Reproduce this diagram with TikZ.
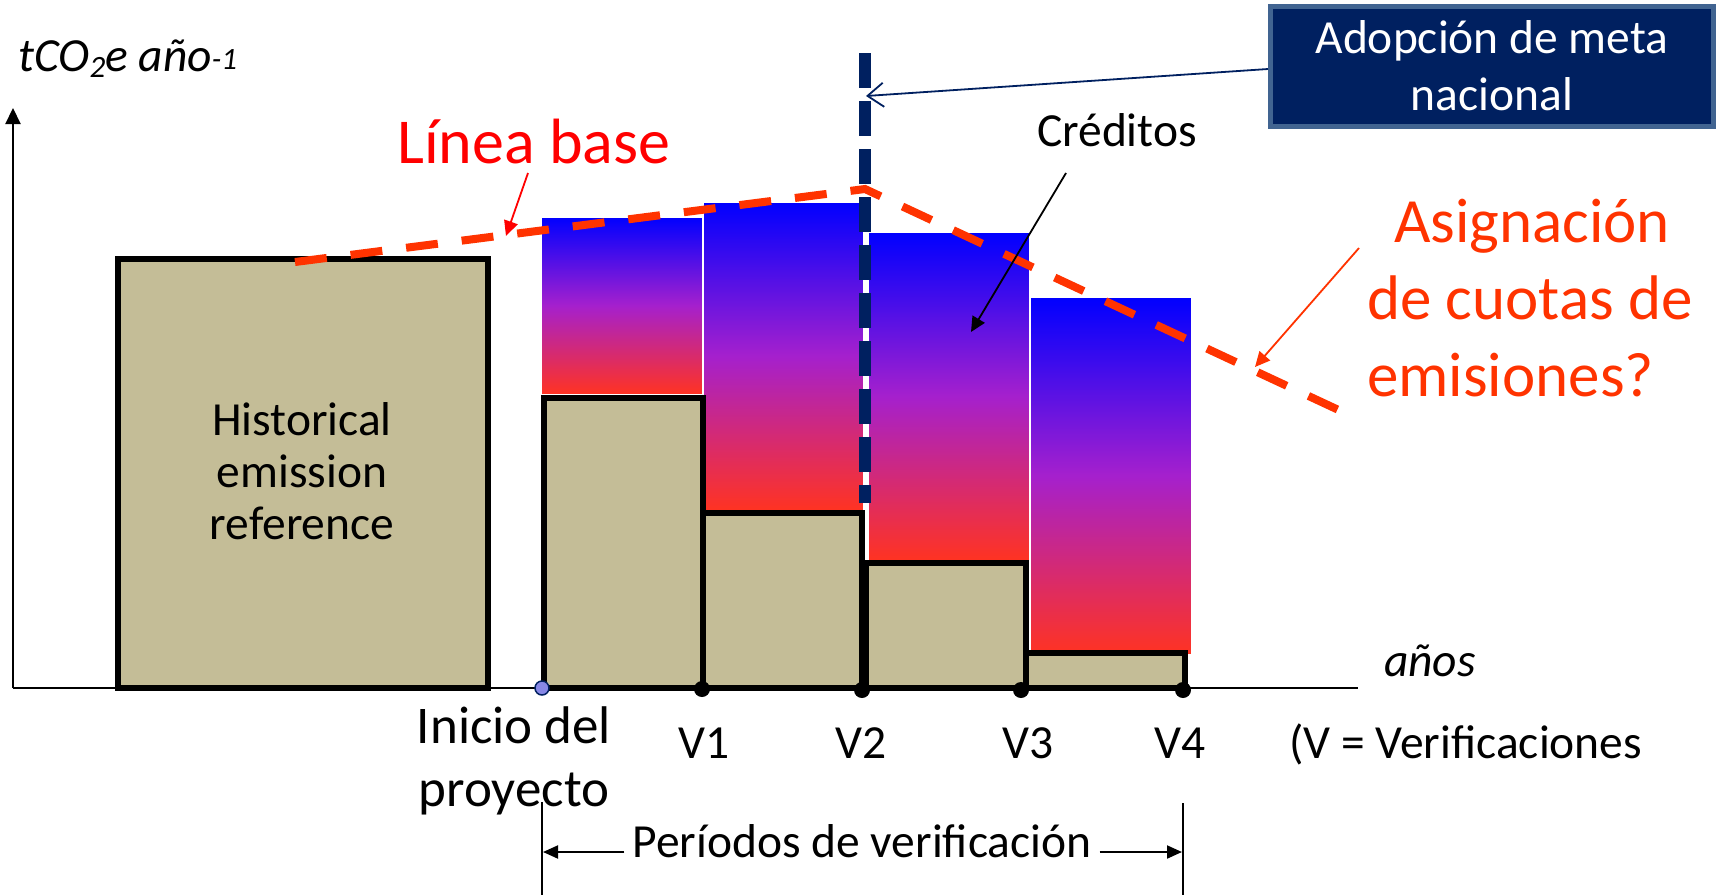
\documentclass[tikz,border=0pt]{standalone}
\usepackage{fontspec}
\setmainfont{Carlito}
\usetikzlibrary{arrows.meta}
\definecolor{tanc}{RGB}{196,189,151}
\definecolor{orc}{RGB}{255,51,0}
\definecolor{navyc}{RGB}{0,32,96}
\definecolor{steelc}{RGB}{65,100,145}
\definecolor{lavc}{RGB}{135,135,230}
\definecolor{gtop}{RGB}{0,0,255}
\definecolor{gmid}{RGB}{165,32,205}
\definecolor{gbot}{RGB}{255,51,34}
\newcommand\myfs[2]{\fontsize{#1pt}{#2pt}\selectfont}
\begin{document}
\begin{tikzpicture}[x=1pt,y=-1pt,
  tanbar/.style={fill=tanc,draw=black,line width=5.5pt},
  gradbar/.style={top color=gtop,bottom color=gbot,middle color=gmid,draw=white,line width=1pt},
  axisline/.style={draw=black,line width=2.2pt},
  lbl/.style={inner sep=0pt,font=\myfs{47.5}{52}},
  vdot/.style={circle,fill=black,inner sep=0pt,minimum size=16pt},
  basel/.style={draw=orc,line width=8pt,dash pattern=on 32pt off 24pt},
  navyd/.style={draw=navyc,line width=12pt,dash pattern=on 35pt off 13pt},
  thinarrow/.style={line width=1.8pt,-{Triangle[length=15pt,width=14pt]}},
  dimarrow/.style={line width=2pt,-{Triangle[length=15pt,width=13pt]}}
]
\useasboundingbox (0,0) rectangle (1717,895);

% axes
\coordinate (o) at (13,688);
\coordinate (xe) at (1358,688);
\coordinate (ye) at (13,108);
\draw[axisline] (o) -- (xe);
\draw[axisline,-{Triangle[length=16pt,width=15pt]}] (o) -- (ye);

% gradient (credit) bars
\path[gradbar] (541,217) rectangle (702,394);
\path[gradbar] (703,202) rectangle (863,510);
\path[gradbar] (868,232) rectangle (1029,560);
\path[gradbar] (1030,297) rectangle (1191,654);

% tan bars
\draw[tanbar] (118,259) rectangle (488,688);
\draw[tanbar] (544,398) rectangle (703,688);
\draw[tanbar] (703,513) rectangle (862,688);
\draw[tanbar] (866,563) rectangle (1026,688);
\draw[tanbar] (1026,653) rectangle (1185,688);

\node[lbl,align=center] (hist) at (302,471) {Historical\\emission\\reference};

% baseline / allocation dashed line
\coordinate (bl0) at (295,262);
\coordinate (bl1) at (865,189);
\coordinate (bl2) at (1345,413);
\draw[basel] (bl0) -- (bl1) -- (bl2);

% national target dashed line
\coordinate (nv0) at (865,53);
\coordinate (nv1) at (865,503);
\draw[navyd] (nv0) -- (nv1);

% dots on the x axis
\node[circle,fill=lavc,draw=navyc,line width=1.5pt,inner sep=0pt,minimum size=14pt] (st) at (542,688) {};
\node[vdot] (d1) at (702,689) {};
\node[vdot] (d2) at (862,690) {};
\node[vdot] (d3) at (1021,690) {};
\node[vdot] (d4) at (1183,690) {};

% axis labels
\node[lbl,anchor=base west] (ylab) at (18,71) {\itshape tCO\raisebox{-6pt}{\myfs{31}{31}2}e año\raisebox{2pt}{\myfs{31}{31}-1}};
\node[lbl,anchor=base] (anos) at (1430,676) {\itshape años};

\node[lbl,anchor=base] (v1) at (704,758) {V1};
\node[lbl,anchor=base] (v2) at (861,758) {V2};
\node[lbl,anchor=base] (v3) at (1028,758) {V3};
\node[lbl,anchor=base] (v4) at (1180,758) {V4};
\node[lbl,anchor=base west] (vdef) at (1289,758) {(V = Verificaciones};
\node[inner sep=0pt,font=\myfs{53}{63},align=center] (inicio) at (514,761) {Inicio del\\proyecto};

% verification period dimension
\coordinate (dl0) at (542,802);
\coordinate (dl1) at (542,895);
\coordinate (dr0) at (1183,803);
\coordinate (dr1) at (1183,895);
\draw[line width=1.8pt] (dl0) -- (dl1);
\draw[line width=1.8pt] (dr0) -- (dr1);
\node[inner sep=0pt,font=\myfs{47.5}{56},anchor=base] (per) at (862,857) {Períodos de verificación};
\coordinate (dimL) at (543,852);
\coordinate (dimR) at (1182,852);
\draw[dimarrow] ([yshift=5pt,xshift=-8pt]per.base west) -- (dimL);
\draw[dimarrow] ([yshift=5pt,xshift=8pt]per.base east) -- (dimR);

% Linea base label
\node[inner sep=0pt,font=\myfs{64}{77},text=red,anchor=base west] (lb) at (397,163) {Línea base};
\coordinate (lbs) at (528,173);
\coordinate (lbt) at (506,236);
\draw[thinarrow,draw=red,fill=red] (lbs) -- (lbt);

% Creditos label
\node[lbl,anchor=base] (cred) at (1117,146) {Créditos};
\coordinate (crs) at (1066,173);
\coordinate (crt) at (971,332);
\draw[thinarrow,draw=black] (crs) -- (crt);

% Asignacion label
\node[inner sep=0pt,font=\myfs{63}{77},text=orc,align=left,anchor=west] (asig) at (1367,298) {\hspace*{27pt}Asignación\\de cuotas de\\emisiones?};
\coordinate (as0) at (1359,248);
\coordinate (as1) at (1255,367);
\draw[thinarrow,draw=orc,fill=orc] (as0) -- (as1);

% Adopcion box
\node[rectangle,fill=navyc,draw=steelc,line width=5pt,minimum width=443pt,minimum height=120pt,text=white,align=center,font=\myfs{47.5}{57}] (adop) at (1492,66) {Adopción de meta\\nacional};
\coordinate (nvt) at (866,96);
\draw[navyc,line width=1.8pt,-{Straight Barb[length=16pt,width=24pt]}] ([yshift=-3pt]adop.west) -- (nvt);

\end{tikzpicture}
\end{document}
